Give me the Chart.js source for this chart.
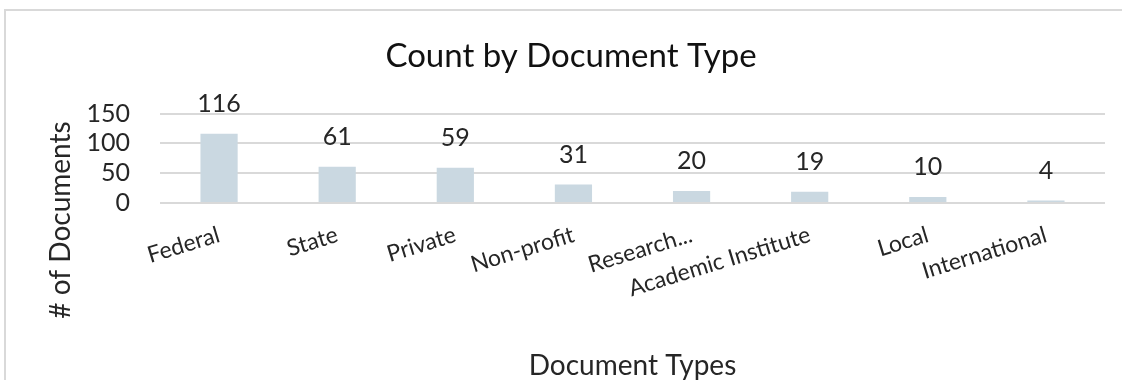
<!DOCTYPE html>
<html>
<head>
<meta charset="utf-8">
<title>Count by Document Type</title>
<script src="https://cdn.jsdelivr.net/npm/chart.js@4/dist/chart.umd.min.js"></script>
<style>
  html, body { margin: 0; padding: 0; background: #ffffff; }
  #wrap { width: 1122px; height: 380px; position: relative; }
  canvas { display: block; }
</style>
</head>
<body>
<div id="wrap"><canvas id="chart" width="1122" height="380"></canvas></div>
<script>
// Document counts per category
const categories = ['Federal', 'State', 'Private', 'Non-profit', 'Research...', 'Academic Institute', 'Local', 'International'];
const counts = [116, 61, 59, 31, 20, 19, 10, 4];
const yTicks = [0, 50, 100, 150];

const chartTitle = 'Count by Document Type';
const xTitle = 'Document Types';
const yTitle = '# of Documents';

const FONT = 'Lato, "Open Sans", sans-serif';
const TEXT = '#262626';
const GRID = '#d9d9d9';
const BAR = '#cad8e1';

// Light frame around the chart area
const framePlugin = {
  id: 'frame',
  beforeDraw(chart) {
    const ctx = chart.ctx;
    ctx.save();
    ctx.strokeStyle = '#d9d9d9';
    ctx.lineWidth = 2;
    ctx.strokeRect(5, 10, 1140, 400);
    ctx.restore();
  }
};

// Value labels above each bar
const valueLabels = {
  id: 'valueLabels',
  afterDatasetsDraw(chart) {
    const ctx = chart.ctx;
    const meta = chart.getDatasetMeta(0);
    ctx.save();
    ctx.fillStyle = TEXT;
    ctx.font = '25px ' + FONT;
    ctx.textAlign = 'center';
    ctx.textBaseline = 'middle';
    meta.data.forEach((bar, i) => {
      ctx.fillText(String(counts[i]), bar.x, bar.y - 30);
    });
    ctx.restore();
  }
};

// Vertical axis title, centred beside the plot and its category labels
const yTitlePlugin = {
  id: 'yTitle',
  afterDraw(chart) {
    const ctx = chart.ctx;
    ctx.save();
    ctx.translate(61, 220);
    ctx.rotate(-Math.PI / 2);
    ctx.fillStyle = TEXT;
    ctx.font = '28px ' + FONT;
    ctx.textAlign = 'center';
    ctx.textBaseline = 'middle';
    ctx.fillText(yTitle, 0, 0);
    ctx.restore();
  }
};

new Chart(document.getElementById('chart'), {
  type: 'bar',
  data: {
    labels: categories,
    datasets: [{
      data: counts,
      backgroundColor: BAR,
      borderWidth: 0,
      barPercentage: 0.315,
      categoryPercentage: 1.0
    }]
  },
  options: {
    responsive: false,
    animation: false,
    events: [],
    layout: { padding: { top: 0, right: 17, bottom: 0, left: 37 } },
    plugins: {
      legend: { display: false },
      tooltip: { enabled: false },
      title: {
        display: true,
        text: chartTitle,
        color: '#111111',
        font: { family: FONT, size: 33, weight: 'normal', lineHeight: 1.2 },
        padding: { top: 37, bottom: 37 }
      }
    },
    scales: {
      x: {
        grid: { display: false, drawTicks: false },
        border: { display: false },
        ticks: {
          color: TEXT,
          font: { family: FONT, size: 23 },
          minRotation: 17,
          maxRotation: 17,
          autoSkip: false,
          padding: 18
        },
        title: {
          display: true,
          text: xTitle,
          color: TEXT,
          font: { family: FONT, size: 28, lineHeight: 1.0 },
          padding: { top: 0, bottom: 0 }
        },
        afterFit(scale) { scale.height = 380 - 203; }
      },
      y: {
        min: 0,
        max: 150,
        grid: { color: GRID, lineWidth: 2, drawTicks: false },
        border: { display: false },
        afterBuildTicks(scale) { scale.ticks = yTicks.map(v => ({ value: v })); },
        ticks: {
          color: TEXT,
          font: { family: FONT, size: 25 },
          padding: 30,
          autoSkip: false
        },
        afterFit(scale) { scale.width = 160 - 37; }
      }
    }
  },
  plugins: [framePlugin, valueLabels, yTitlePlugin]
});
</script>
</body>
</html>
